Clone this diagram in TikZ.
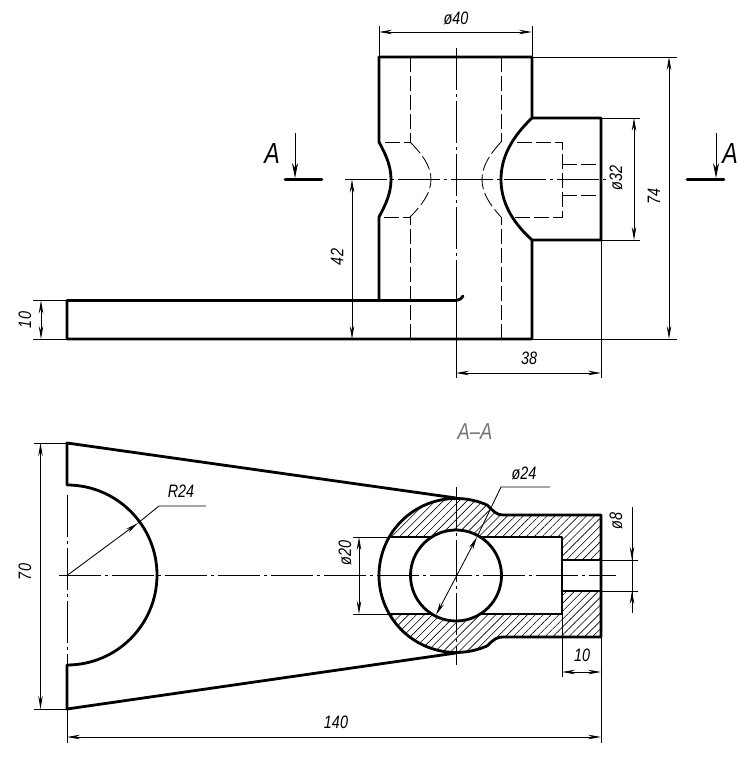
\documentclass[tikz,border=0pt]{standalone}
\usepackage{fontspec}
\setmainfont{Liberation Sans}
\newfontfamily\dimfont[FakeStretch=0.8]{Liberation Sans}
\usetikzlibrary{arrows.meta,patterns.meta}
\tikzset{
  outline/.style={line width=2.8pt, line join=round, line cap=round},
  thinline/.style={line width=0.85pt},
  hidden/.style={line width=0.85pt, dash pattern=on 15pt off 4pt},
  axisline/.style={line width=0.85pt, dash pattern=on 42pt off 4pt on 3pt off 4pt},
  dimline/.style={line width=0.85pt, {Stealth[length=13pt,width=4.5pt]}-{Stealth[length=13pt,width=4.5pt]}},
  dimtext/.style={font=\dimfont\itshape\fontsize{18}{18}\selectfont, inner sep=0pt},
  cuttext/.style={font=\dimfont\itshape\fontsize{29}{29}\selectfont, inner sep=0pt},
  hatching/.style={pattern={Lines[angle=45,distance=5.6pt,line width=0.6pt]}},
}
\begin{document}
\begin{tikzpicture}[x=1pt, y=1pt]
\useasboundingbox (0,0) rectangle (752,762);

% Front view: outline
\draw[outline] (379,705) -- (532,705) -- (532,644) -- (601,644) -- (601,522) -- (532,522) -- (532,423) -- (67,423) -- (67,461.5) -- (456,461.5) .. controls (459,461.5) and (461,463) .. (463,466);
\draw[outline] (379,705) -- (379,620) .. controls (386,607) and (391,596) .. (391,582.5) .. controls (391,569) and (386,558) .. (379,545) -- (379,461.5);
\draw[outline] (532,644) .. controls (512,625) and (501,605) .. (501,582.5) .. controls (501,560) and (512,540) .. (532,522);

% Front view: hidden lines
\draw[hidden] (410,705) -- (410,620) -- (379,620);
\draw[hidden] (410,423) -- (410,545) -- (379,545);
\draw[hidden] (501,705) -- (501,620);
\draw[hidden] (501,423) -- (501,545);
\draw[hidden] (410,620) .. controls (422,608) and (431,596) .. (431,582.5) .. controls (431,569) and (422,557) .. (410,545);
\draw[hidden] (501,620) .. controls (490,608) and (482,596) .. (482,582.5) .. controls (482,569) and (490,557) .. (501,545);
\draw[hidden] (517,620) -- (562,620) -- (562,545) -- (514,545);
\draw[hidden] (562,598) -- (601,598);
\draw[hidden] (562,567) -- (601,567);

% Front view: axes
\draw[axisline] (456,714) -- (456,462);
\draw[thinline] (456,462) -- (456,384);
\draw[axisline] (345,582.5) -- (609,582.5);

% Front view: dimensions
\draw[thinline] (379,705) -- (379,736);
\draw[thinline] (532,705) -- (532,736);
\draw[dimline] (379,730) -- (532,730);
\node[dimtext] (d40) at (456,744) {ø40};
\draw[thinline] (532,705) -- (677,705);
\draw[thinline] (532,423) -- (677,423);
\draw[dimline] (669,705) -- (669,423);
\node[dimtext, rotate=90] (d74) at (654,565) {74};
\draw[thinline] (601,644) -- (640,644);
\draw[thinline] (601,522) -- (640,522);
\draw[dimline] (634,644) -- (634,522);
\node[dimtext, rotate=90] (d32) at (616,584) {ø32};
\draw[dimline] (352,582.5) -- (352,423);
\node[dimtext, rotate=90] (d42) at (337,505) {42};
\draw[thinline] (33,461.5) -- (67,461.5);
\draw[thinline] (33,423) -- (67,423);
\draw[dimline] (41,461.5) -- (41,423);
\node[dimtext, rotate=90] (d10) at (25,442) {10};
\draw[thinline] (601,522) -- (601,384);
\draw[dimline] (456,389) -- (601,389);
\node[dimtext] (d38) at (529,404) {38};

% Section marks
\draw[outline] (285,582.5) -- (322,582.5);
\draw[outline] (687,582.5) -- (724,582.5);
\draw[thinline, -{Stealth[length=15pt,width=6pt]}] (295,629) -- (295,584);
\draw[thinline, -{Stealth[length=15pt,width=6pt]}] (716,629) -- (716,584);
\node[cuttext] (markA) at (272,608) {A};
\node[cuttext] (markB) at (730,608) {A};
\node[dimtext, text=black!55, font=\dimfont\itshape\fontsize{23}{23}\selectfont] (titleAA) at (475,330) {A–A};

% Section: hatching
\fill[hatching] (389.3,225) arc[start angle=150, end angle=66, radius=77] .. controls (494,250) and (497,247) .. (503,247) -- (601,247) -- (601,202) -- (562,202) -- (562,225) -- cycle;
\fill[hatching] (389.3,148) arc[start angle=210, end angle=294, radius=77] .. controls (494,123) and (497,125) .. (503,125) -- (601,125) -- (601,171) -- (562,171) -- (562,148) -- cycle;
\fill[white] (456,186.5) circle[radius=45.5];

% Section: outline
\draw[outline] (487.3,116.2) arc[start angle=-66, end angle=-294, radius=77] .. controls (494,250) and (497,247) .. (503,247) -- (601,247) -- (601,125) -- (503,125) .. controls (497,125) and (494,123) .. cycle;
\draw[outline] (456,186.5) circle[radius=45.5];
\draw[outline] (389.3,225) -- (431.8,225);
\draw[outline] (480.2,225) -- (562,225) -- (562,148) -- (480.2,148);
\draw[outline] (431.8,148) -- (389.3,148);
\draw[outline] (562,202) -- (601,202);
\draw[outline] (562,171) -- (601,171);
\draw[outline] (456,264) -- (67,319) -- (67,277) arc[start angle=90, end angle=-90, radius=90] -- (67,53) -- (456,109);

% Section: axes
\draw[axisline] (59,186.5) -- (616,186.5);
\draw[axisline] (67,267) -- (67,53);
\draw[thinline] (67,53) -- (67,19);
\draw[axisline] (456,275) -- (456,97);

% Section: dimensions
\draw[thinline] (34,319) -- (67,319);
\draw[thinline] (34,53) -- (67,53);
\draw[dimline] (40.5,319) -- (40.5,53);
\node[dimtext, rotate=90] (d70) at (25,190) {70};
\coordinate (r24a) at (159,256);
\coordinate (r24b) at (206,256);
\draw[thinline, -{Stealth[length=13pt,width=4.5pt]}] (67,186.5) -- (138,239);
\draw[thinline] (138,239) -- (r24a) -- (r24b);
\node[dimtext] (dR24) at (181,271) {R24};
\coordinate (d24a) at (501,275);
\coordinate (d24b) at (550,275);
\draw[dimline] (436,147) -- (477,225);
\draw[thinline] (477,225) -- (d24a) -- (d24b);
\node[dimtext] (d24) at (524,289) {ø24};
\draw[thinline] (353,225) -- (392,225);
\draw[thinline] (353,148) -- (392,148);
\draw[dimline] (359,225) -- (359,148);
\node[dimtext, rotate=90] (d20) at (345,209) {ø20};
\draw[thinline] (601,202) -- (638,202);
\draw[thinline] (601,171) -- (638,171);
\draw[thinline] (632,149) -- (632,255);
\draw[thinline, -{Stealth[length=13pt,width=4.5pt]}] (632,225) -- (632,202);
\draw[thinline, -{Stealth[length=13pt,width=4.5pt]}] (632,149) -- (632,171);
\node[dimtext, rotate=90] (d8) at (616,241) {ø8};
\draw[thinline] (562,148) -- (562,85);
\draw[thinline] (601,125) -- (601,19);
\draw[dimline] (562,90) -- (601,90);
\node[dimtext] (d10b) at (582,107) {10};
\draw[dimline] (67,25) -- (601,25);
\node[dimtext] (d140) at (336,40) {140};
\end{tikzpicture}
\end{document}
